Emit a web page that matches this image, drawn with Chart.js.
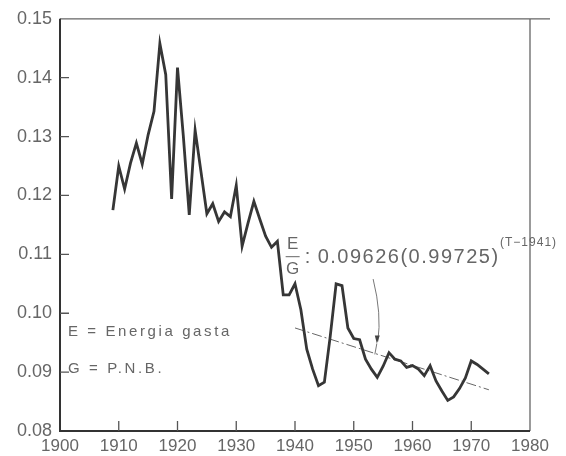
<!DOCTYPE html>
<html>
<head>
<meta charset="utf-8">
<script src="https://cdn.jsdelivr.net/npm/chart.js@4/dist/chart.umd.min.js"></script>
<style>
  html, body { margin: 0; padding: 0; background: #fff; }
  #wrap { width: 566px; height: 456px; }
</style>
</head>
<body>
<div id="wrap"><canvas id="ratioChart" width="566" height="456"></canvas></div>
<script>
// anni e rapporto E/G
const years = [1909, 1910, 1911, 1912, 1913, 1914, 1915, 1916, 1917, 1918,
               1919, 1920, 1921, 1922, 1923, 1924, 1925, 1926, 1927, 1928,
               1929, 1930, 1931, 1932, 1933, 1934, 1935, 1936, 1937, 1938,
               1939, 1940, 1941, 1942, 1943, 1944, 1945, 1946, 1947, 1948,
               1949, 1950, 1951, 1952, 1953, 1954, 1955, 1956, 1957, 1958,
               1959, 1960, 1961, 1962, 1963, 1964, 1965, 1966, 1967, 1968,
               1969, 1970, 1971, 1972, 1973];
const ratioEG = [0.1175, 0.1250, 0.1211, 0.1255, 0.1289, 0.1253, 0.1303, 0.1343, 0.1458, 0.1405,
                 0.1194, 0.1417, 0.1300, 0.1167, 0.1311, 0.1240, 0.1169, 0.1186, 0.1156, 0.1172,
                 0.1164, 0.1217, 0.1114, 0.1153, 0.1190, 0.1160, 0.1131, 0.1112, 0.1122, 0.1031,
                 0.1031, 0.1050, 0.1006, 0.0939, 0.0905, 0.0877, 0.0883, 0.0961, 0.1050, 0.1047,
                 0.0975, 0.0957, 0.0955, 0.0922, 0.0905, 0.0891, 0.0910, 0.0933, 0.0922, 0.0919,
                 0.0908, 0.0911, 0.0905, 0.0894, 0.0911, 0.0885, 0.0868, 0.0852, 0.0858, 0.0872,
                 0.0890, 0.0919, 0.0913, 0.0905, 0.0897];

// retta di tendenza (T 1941)
const trendYears = [1940, 1973];
const trendValues = [0.0975, 0.0870];

const yTicks = [0.08, 0.09, 0.10, 0.11, 0.12, 0.13, 0.14, 0.15];
const xTicks = [1900, 1910, 1920, 1930, 1940, 1950, 1960, 1970, 1980];

const INK = '#363636';
const TEXT = '#666';
const FONT = '"Liberation Sans", Arial, sans-serif';

// cornice, tacche interne, legenda e formula
const decorPlugin = {
    id: 'decor',
    afterDraw(chart) {
        const { ctx, chartArea: a, scales: { x, y } } = chart;
        ctx.save();

        // cornice
        ctx.strokeStyle = '#666';
        ctx.lineWidth = 1.3;
        ctx.beginPath();
        ctx.moveTo(a.left, a.top);
        ctx.lineTo(a.right + 20, a.top);
        ctx.moveTo(a.right, a.top);
        ctx.lineTo(a.right, a.bottom);
        ctx.stroke();

        ctx.strokeStyle = '#333';
        ctx.lineWidth = 2;
        ctx.beginPath();
        ctx.moveTo(a.left, a.top);
        ctx.lineTo(a.left, a.bottom);
        ctx.lineTo(a.right, a.bottom);
        ctx.stroke();

        // tacche verso l'interno
        ctx.lineWidth = 1.3;
        ctx.strokeStyle = '#555';
        ctx.beginPath();
        yTicks.slice(1, -1).forEach(v => {
            const py = y.getPixelForValue(v);
            ctx.moveTo(a.left, py);
            ctx.lineTo(a.left + 9, py);
        });
        xTicks.slice(1, -1).forEach(v => {
            const px = x.getPixelForValue(v);
            ctx.moveTo(px, a.bottom);
            ctx.lineTo(px, a.bottom - 10);
        });
        ctx.stroke();

        // legenda
        ctx.fillStyle = TEXT;
        ctx.font = '15px ' + FONT;
        ctx.letterSpacing = '2.6px';
        ctx.textBaseline = 'middle';
        ctx.textAlign = 'left';
        ctx.fillText('E = Energia gasta', a.left + 8, y.getPixelForValue(0.0968));
        ctx.fillText('G = P.N.B.', a.left + 8, y.getPixelForValue(0.0906));

        // formula
        const fx = x.getPixelForValue(1939.6);
        const fy = y.getPixelForValue(0.1096);
        ctx.letterSpacing = '0px';
        ctx.font = '17px ' + FONT;
        ctx.textAlign = 'center';
        ctx.fillText('E', fx, fy - 12);
        ctx.fillText('G', fx, fy + 13);
        ctx.lineWidth = 1;
        ctx.strokeStyle = TEXT;
        ctx.beginPath();
        ctx.moveTo(fx - 7, fy);
        ctx.lineTo(fx + 7, fy);
        ctx.stroke();
        ctx.textAlign = 'left';
        ctx.font = '20px ' + FONT;
        ctx.fillText(':', fx + 12, fy + 1);
        ctx.letterSpacing = '1.5px';
        ctx.fillText('0.09626(0.99725)', fx + 25, fy + 1);
        ctx.font = '12px ' + FONT;
        ctx.letterSpacing = '1px';
        ctx.fillText('(T\u22121941)', x.getPixelForValue(1974.9), fy - 14);
        ctx.letterSpacing = '0px';

        // freccia verso la retta
        const ax0 = x.getPixelForValue(1953.3), ay0 = y.getPixelForValue(0.1058);
        const ax1 = x.getPixelForValue(1954.1), ay1 = y.getPixelForValue(0.0952);
        ctx.strokeStyle = '#777';
        ctx.lineWidth = 1;
        ctx.beginPath();
        ctx.moveTo(ax0, ay0);
        ctx.quadraticCurveTo(ax1 + 4, ay0 + 35, ax1, ay1);
        ctx.stroke();
        ctx.fillStyle = '#444';
        ctx.beginPath();
        ctx.moveTo(ax1 - 3, ay1 - 6);
        ctx.lineTo(ax1 + 2, ay1 - 6);
        ctx.lineTo(ax1 - 1, ay1 + 2);
        ctx.closePath();
        ctx.fill();
        ctx.beginPath();
        ctx.moveTo(ax1 - 1, ay1 + 2);
        ctx.lineTo(ax1 - 3, y.getPixelForValue(0.0930));
        ctx.stroke();

        ctx.restore();
    }
};

new Chart(document.getElementById('ratioChart'), {
    type: 'line',
    data: {
        datasets: [{
            label: 'E/G',
            data: years.map((yr, i) => ({ x: yr, y: ratioEG[i] })),
            borderColor: INK,
            borderWidth: 2.8,
            pointRadius: 0,
            tension: 0,
            order: 1
        }, {
            label: 'tendenza',
            data: trendYears.map((yr, i) => ({ x: yr, y: trendValues[i] })),
            borderColor: '#666',
            borderWidth: 1,
            borderDash: [10, 3, 2, 3],
            pointRadius: 0,
            tension: 0,
            order: 2
        }]
    },
    options: {
        responsive: false,
        animation: false,
        layout: { padding: { left: 0, right: 36, top: 16, bottom: 0 } },
        plugins: {
            legend: { display: false },
            tooltip: { enabled: false }
        },
        scales: {
            x: {
                type: 'linear',
                min: 1900,
                max: 1980,
                afterBuildTicks: s => { s.ticks = xTicks.map(v => ({ value: v })); },
                afterFit: s => { s.height = 25; },
                grid: { display: false, drawTicks: false },
                border: { display: false },
                ticks: {
                    color: TEXT,
                    padding: 5,
                    maxRotation: 0,
                    font: { family: FONT, size: 17 },
                    callback: v => String(v)
                }
            },
            y: {
                min: 0.08,
                max: 0.15,
                afterBuildTicks: s => { s.ticks = yTicks.map(v => ({ value: v })); },
                afterFit: s => { s.width = 60; },
                grid: { display: false, drawTicks: false },
                border: { display: false },
                ticks: {
                    color: TEXT,
                    padding: 8,
                    font: { family: FONT, size: 18 },
                    callback: v => v.toFixed(2)
                }
            }
        }
    },
    plugins: [decorPlugin]
});
</script>
</body>
</html>
